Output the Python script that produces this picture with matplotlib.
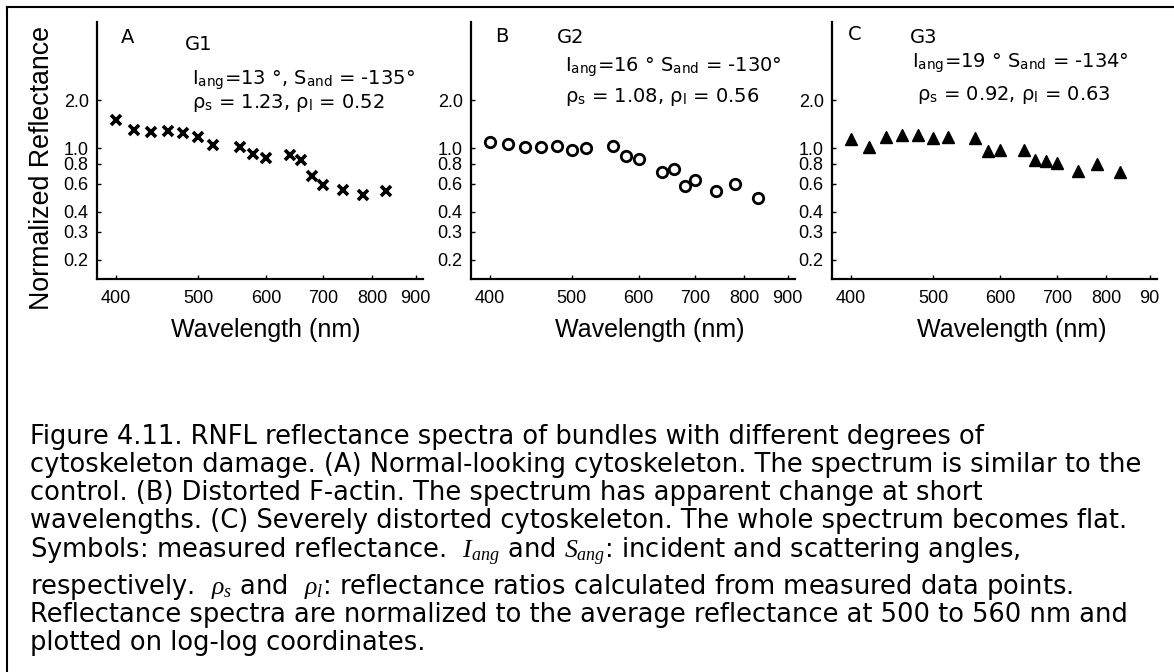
import matplotlib
matplotlib.use("Agg")
import matplotlib.pyplot as plt
from matplotlib.lines import Line2D
from matplotlib.ticker import NullLocator

# Data
wavelength = [400, 420, 440, 460, 480, 500, 520, 560, 580, 600,
              640, 660, 680, 700, 740, 780, 830]
refl_g1 = [1.49, 1.29, 1.26, 1.28, 1.24, 1.17, 1.05, 1.02, 0.92, 0.87,
           0.91, 0.84, 0.67, 0.59, 0.55, 0.51, 0.54]
refl_g2 = [1.09, 1.06, 1.02, 1.01, 1.03, 0.98, 1.00, 1.03, 0.89, 0.85,
           0.71, 0.74, 0.58, 0.63, 0.54, 0.60, 0.49]
refl_g3 = [1.14, 1.02, 1.17, 1.21, 1.20, 1.16, 1.17, 1.15, 0.96, 0.97,
           0.97, 0.84, 0.83, 0.81, 0.72, 0.80, 0.71]

xticks = [400, 500, 600, 700, 800, 900]
yticks = [0.2, 0.3, 0.4, 0.6, 0.8, 1.0, 2.0]
ytick_labels = ["0.2", "0.3", "0.4", "0.6", "0.8", "1.0", "2.0"]

panel_letters = ["A", "B", "C"]
group_names = ["G1", "G2", "G3"]
angle_text = [r"$\mathrm{I}_{\mathrm{ang}}$=13 °, $\mathrm{S}_{\mathrm{and}}$ = -135°",
              r"$\mathrm{I}_{\mathrm{ang}}$=16 ° $\mathrm{S}_{\mathrm{and}}$ = -130°",
              r"$\mathrm{I}_{\mathrm{ang}}$=19 ° $\mathrm{S}_{\mathrm{and}}$ = -134°"]
ratio_text = [r"$\mathrm{ρ}_{\mathrm{s}}$ = 1.23, $\mathrm{ρ}_{\mathrm{l}}$ = 0.52",
              r"$\mathrm{ρ}_{\mathrm{s}}$ = 1.08, $\mathrm{ρ}_{\mathrm{l}}$ = 0.56",
              r"$\mathrm{ρ}_{\mathrm{s}}$ = 0.92, $\mathrm{ρ}_{\mathrm{l}}$ = 0.63"]

caption = [
    "Figure 4.11. RNFL reflectance spectra of bundles with different degrees of",
    "cytoskeleton damage. (A) Normal-looking cytoskeleton. The spectrum is similar to the",
    "control. (B) Distorted F-actin. The spectrum has apparent change at short",
    "wavelengths. (C) Severely distorted cytoskeleton. The whole spectrum becomes flat.",
    r"Symbols: measured reflectance.  $I_{ang}$ and $S_{ang}$: incident and scattering angles,",
    r"respectively.  $\rho_{s}$ and  $\rho_{l}$: reflectance ratios calculated from measured data points.",
    "Reflectance spectra are normalized to the average reflectance at 500 to 560 nm and",
    "plotted on log-log coordinates.",
]
# baselines of the caption lines, in pixels from the top
caption_base = [444, 472, 500, 528, 558, 594, 622, 650]

plt.rcParams["font.family"] = ["DejaVu Sans"]
plt.rcParams["mathtext.fontset"] = "custom"
plt.rcParams["mathtext.rm"] = "DejaVu Sans"
plt.rcParams["mathtext.it"] = "Liberation Serif:italic"
plt.rcParams["mathtext.bf"] = "DejaVu Sans:bold"

W, H = 1174, 672
fig = plt.figure(figsize=(W / 100, H / 100), dpi=100)


def fx(x):
    return x / W


def fy(y):
    return 1 - y / H


# Panel axes (left, right) in pixels
panel_px = [(97, 423), (471, 795), (832, 1157)]
series = [refl_g1, refl_g2, refl_g3]
styles = [dict(marker="x", ms=6.5, mew=2.6, color="black"),
          dict(marker="o", ms=7.5, mew=2.0, mfc="none", mec="black"),
          dict(marker="^", ms=8, color="black")]
letter_pos = [(128, 43), (502, 42), (855, 40)]
group_pos = [(185, 50), (557, 43), (910, 43)]
angle_pos = [(192, 84), (565, 71), (912, 67)]
ratio_pos = [(192, 108), (565, 102), (917, 100)]
xlabel_x = [266, 650, 1012]
last_xlabels = ["900", "900", "90"]

for i in range(3):
    left, right = panel_px[i]
    ax = fig.add_axes([fx(left), fy(279), (right - left) / W, (279 - 22) / H])
    ax.plot(wavelength, series[i], linestyle="none", **styles[i])
    ax.set_xscale("log")
    ax.set_yscale("log")
    ax.set_xlim(380, 918)
    ax.set_ylim(0.152, 6.15)
    ax.set_xticks(xticks)
    ax.set_xticklabels(["400", "500", "600", "700", "800", last_xlabels[i]])
    ax.set_yticks(yticks)
    ax.set_yticklabels(ytick_labels)
    ax.xaxis.set_minor_locator(NullLocator())
    ax.yaxis.set_minor_locator(NullLocator())
    ax.tick_params(direction="in", length=3, width=1, labelsize=13)
    ax.tick_params(axis="x", pad=8)
    ax.tick_params(axis="y", pad=6)
    for lab in ax.get_xticklabels() + ax.get_yticklabels():
        lab.set_family("Liberation Sans")
    for s in ["top", "right"]:
        ax.spines[s].set_visible(False)
    for s in ["left", "bottom"]:
        ax.spines[s].set_linewidth(1.6)
    ax.patch.set_alpha(0)

    fig.text(fx(letter_pos[i][0]), fy(letter_pos[i][1]), panel_letters[i],
             fontsize=14, ha="center", va="baseline")
    fig.text(fx(group_pos[i][0]), fy(group_pos[i][1]), group_names[i],
             fontsize=14, ha="left", va="baseline")
    fig.text(fx(angle_pos[i][0]), fy(angle_pos[i][1]), angle_text[i],
             fontsize=14, ha="left", va="baseline")
    fig.text(fx(ratio_pos[i][0]), fy(ratio_pos[i][1]), ratio_text[i],
             fontsize=14, ha="left", va="baseline")
    fig.text(fx(xlabel_x[i]), fy(330), "Wavelength (nm)", family="Liberation Sans",
             fontsize=18, ha="center", va="center")

fig.text(fx(42), fy(168), "Normalized Reflectance", rotation=90,
         family="Liberation Sans", fontsize=19.3, ha="center", va="center")

for line, y in zip(caption, caption_base):
    fig.text(fx(30), fy(y), line, fontsize=18.5, ha="left", va="baseline")

# Frame lines around the figure (left and top)
fig.add_artist(Line2D([fx(7), fx(7)], [fy(7), 0], color="black", lw=1.5))
fig.add_artist(Line2D([fx(7), 1], [fy(7), fy(7)], color="black", lw=1.5))

fig.savefig("out.png", dpi=100, facecolor="white")
